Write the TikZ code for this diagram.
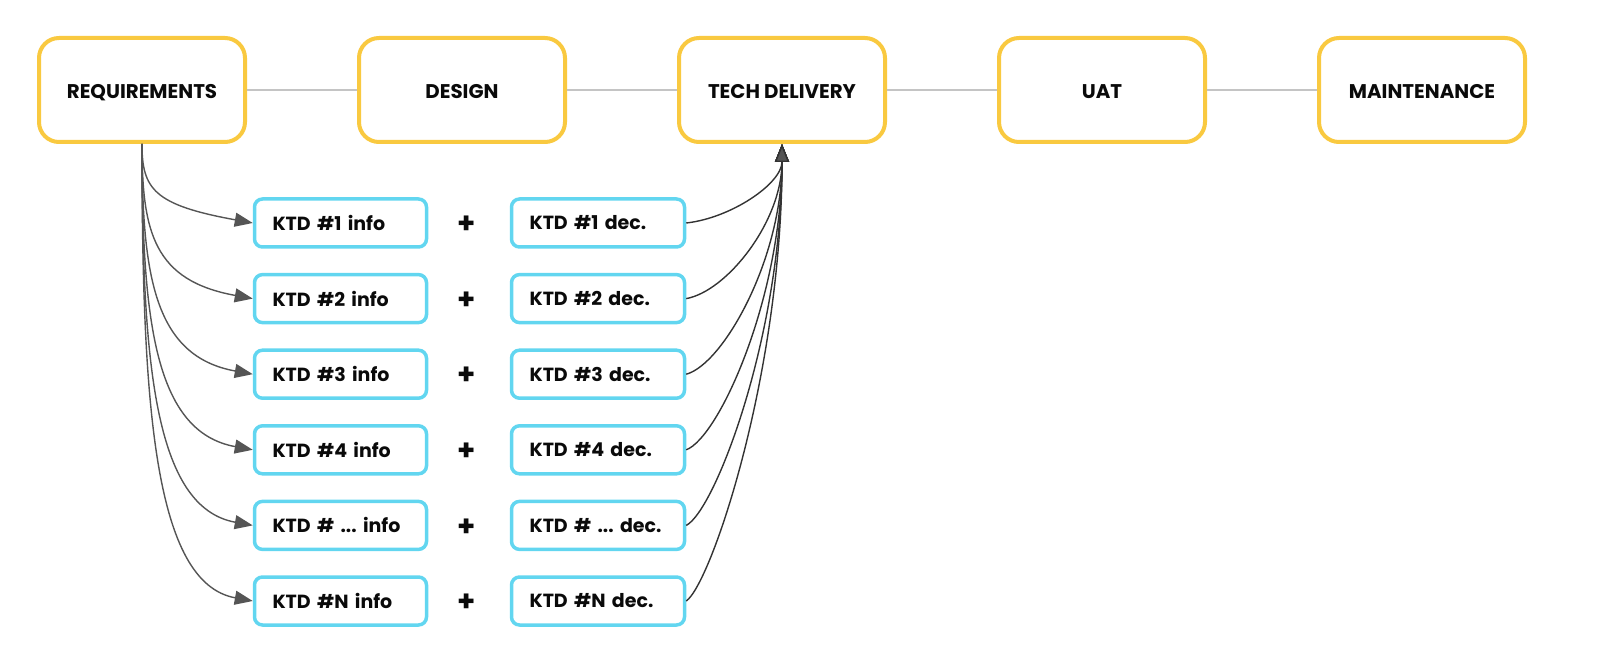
\documentclass[tikz,border=0pt]{standalone}
\usepackage{fontspec}
\setmainfont{Poppins}
\usetikzlibrary{arrows.meta}
\definecolor{ybord}{HTML}{F9C940}
\definecolor{cbord}{HTML}{62D6F0}
\definecolor{conn}{HTML}{555555}
\definecolor{ret}{HTML}{333333}
\definecolor{topline}{HTML}{C4C4C4}
\definecolor{txt}{HTML}{0A0A0A}
\begin{document}
\begin{tikzpicture}[x=1pt,y=-1pt,
  phase/.style={draw=ybord,line width=4pt,rounded corners=20pt,minimum width=206pt,minimum height=104pt,inner sep=0pt,text height=18pt,text depth=0pt,font=\fontsize{19.8}{22}\selectfont\bfseries,text=txt},
  ktd/.style={draw=cbord,line width=3.5pt,rounded corners=8pt,minimum height=48pt,inner xsep=18pt,inner ysep=0pt,align=left,font=\fontsize{19}{22}\selectfont\bfseries,text=txt},
  infobox/.style={ktd,text width=136pt},
  decbox/.style={ktd,text width=137pt},
  plussign/.style={font=\fontsize{29}{29}\selectfont\bfseries,text=txt,inner sep=0pt},
  topconn/.style={draw=topline,line width=2pt},
  inarr/.style={draw=conn,line width=1.4pt,-{Triangle[length=18pt,width=14pt]}},
  outarr/.style={draw=ret,line width=1.4pt,-{Triangle[length=18pt,width=14pt,fill=conn]}}
]
\useasboundingbox (0,0) rectangle (1600,652);
\node[phase] (req) at (142,90) {REQUIREMENTS};
\node[phase] (des) at (462,90) {DESIGN};
\node[phase] (tech) at (782,90) {TECH DELIVERY};
\node[phase] (uat) at (1102,90) {UAT};
\node[phase] (main) at (1422,90) {MAINTENANCE};
\draw[topconn] (req.east) -- (des.west);
\draw[topconn] (des.east) -- (tech.west);
\draw[topconn] (tech.east) -- (uat.west);
\draw[topconn] (uat.east) -- (main.west);
\foreach \i/\lab/\yy in {1/1/223,2/2/298.6,3/3/374.2,4/4/449.8,5/{ ...}/525.4,6/N/601}{
  \node[infobox] (i\i) at (340.5,\yy) {KTD \#\lab\ info};
  \node[plussign] (p\i) at (467,\yy+2) {+};
  \node[decbox] (d\i) at (598,\yy) {KTD \#\lab\ dec.};
  \pgfmathsetmacro{\dy}{\yy-144}
  \pgfmathsetmacro{\av}{0.57*\dy}
  \pgfmathsetmacro{\bv}{0.5*\dy}
  \pgfmathsetmacro{\sx}{45-4*(\i-1)}
  \pgfmathsetmacro{\sy}{-5-2.5*(\i-1)}
  \draw[inarr] (req.south) .. controls +(0,\av) and +(-99,-18) .. (i\i.west);
  \draw[outarr] (d\i.east) .. controls +(\sx,\sy) and +(0,\bv) .. (tech.south);
}
\end{tikzpicture}
\end{document}
